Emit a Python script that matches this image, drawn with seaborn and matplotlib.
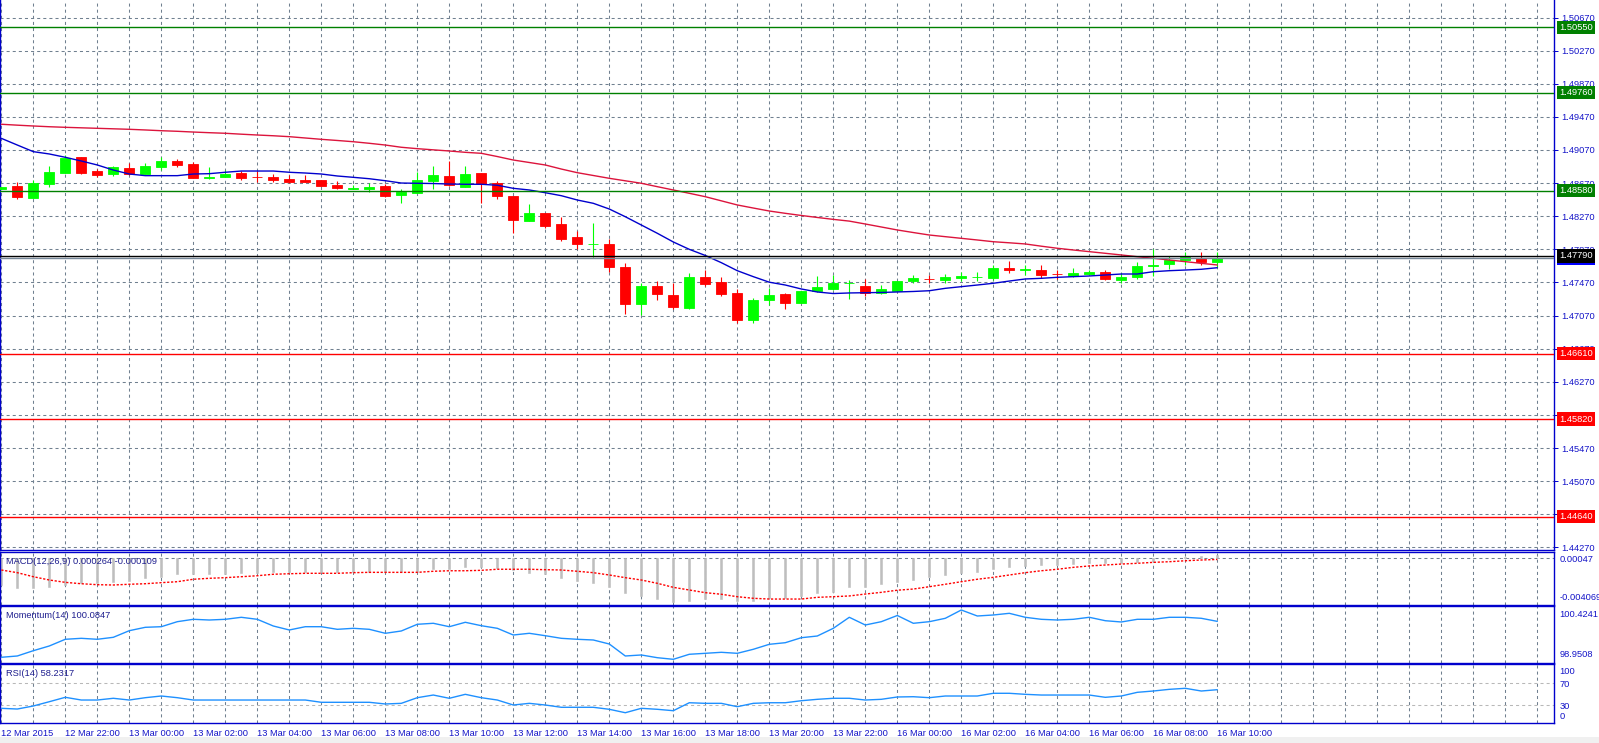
import numpy as np
import seaborn as sns
import matplotlib.pyplot as plt
from matplotlib.patches import Rectangle

sns.set_style("white")
plt.rcParams['font.family'] = ['Liberation Sans', 'DejaVu Sans']
plt.rcParams['lines.scale_dashes'] = False

# M30 bars, 12 Mar 2015 20:00 .. 16 Mar 2015 10:00
opens = [1.48599, 1.48635, 1.48494, 1.48663, 1.48796, 1.48985, 1.48816, 1.48784, 1.48853, 1.48780,
         1.48865, 1.48937, 1.48904, 1.48735, 1.48744, 1.48792, 1.48748, 1.48744, 1.48720, 1.48708,
         1.48708, 1.48647, 1.48603, 1.48603, 1.48635, 1.48530, 1.48554, 1.48696, 1.48756, 1.48627,
         1.48792, 1.48668, 1.48518, 1.48216, 1.48313, 1.48176, 1.48019, 1.47930, 1.47934, 1.47657,
         1.47213, 1.47427, 1.47318, 1.47165, 1.47536, 1.47475, 1.47343, 1.47020, 1.47258, 1.47330,
         1.47225, 1.47367, 1.47391, 1.47458, 1.47427, 1.47343, 1.47367, 1.47487, 1.47515, 1.47500,
         1.47524, 1.47533, 1.47524, 1.47645, 1.47625, 1.47620, 1.47575, 1.47548, 1.47572, 1.47596,
         1.47500, 1.47536, 1.47668, 1.47693, 1.47741, 1.47765, 1.47721]
highs = [1.48619, 1.48687, 1.48708, 1.48877, 1.49010, 1.48990, 1.48837, 1.48880, 1.48909, 1.48909,
         1.48985, 1.48961, 1.48929, 1.48865, 1.48828, 1.48816, 1.48816, 1.48780, 1.48764, 1.48768,
         1.48708, 1.48696, 1.48647, 1.48671, 1.48663, 1.48599, 1.48804, 1.48877, 1.48937, 1.48877,
         1.48792, 1.48696, 1.48518, 1.48421, 1.48313, 1.48261, 1.48091, 1.48188, 1.47995, 1.47701,
         1.47460, 1.47487, 1.47460, 1.47584, 1.47620, 1.47532, 1.47387, 1.47279, 1.47403, 1.47346,
         1.47367, 1.47548, 1.47560, 1.47500, 1.47512, 1.47439, 1.47487, 1.47560, 1.47560, 1.47572,
         1.47596, 1.47596, 1.47681, 1.47729, 1.47681, 1.47681, 1.47620, 1.47645, 1.47620, 1.47620,
         1.47584, 1.47717, 1.47880, 1.47790, 1.47838, 1.47838, 1.47834]
lows = [1.48599, 1.48482, 1.48494, 1.48627, 1.48790, 1.48780, 1.48740, 1.48756, 1.48764, 1.48780,
        1.48828, 1.48868, 1.48732, 1.48720, 1.48744, 1.48708, 1.48683, 1.48683, 1.48671, 1.48683,
        1.48635, 1.48595, 1.48595, 1.48566, 1.48506, 1.48433, 1.48554, 1.48603, 1.48635, 1.48627,
        1.48433, 1.48482, 1.48071, 1.48216, 1.48128, 1.47971, 1.47874, 1.47777, 1.47596, 1.47092,
        1.47073, 1.47258, 1.47146, 1.47153, 1.47427, 1.47310, 1.46984, 1.46984, 1.47198, 1.47153,
        1.47225, 1.47355, 1.47379, 1.47270, 1.47306, 1.47330, 1.47367, 1.47463, 1.47463, 1.47463,
        1.47487, 1.47487, 1.47500, 1.47584, 1.47560, 1.47524, 1.47512, 1.47536, 1.47560, 1.47500,
        1.47463, 1.47512, 1.47545, 1.47632, 1.47681, 1.47681, 1.47660]
closes = [1.48619, 1.48506, 1.48668, 1.48808, 1.48970, 1.48796, 1.48772, 1.48865, 1.48780, 1.48877,
          1.48937, 1.48889, 1.48732, 1.48745, 1.48780, 1.48732, 1.48740, 1.48708, 1.48683, 1.48683,
          1.48635, 1.48611, 1.48611, 1.48623, 1.48514, 1.48566, 1.48708, 1.48768, 1.48647, 1.48780,
          1.48659, 1.48518, 1.48228, 1.48313, 1.48152, 1.47995, 1.47934, 1.47940, 1.47660, 1.47210,
          1.47427, 1.47334, 1.47177, 1.47536, 1.47455, 1.47334, 1.47020, 1.47258, 1.47318, 1.47225,
          1.47367, 1.47415, 1.47463, 1.47466, 1.47343, 1.47391, 1.47487, 1.47524, 1.47510, 1.47536,
          1.47548, 1.47540, 1.47645, 1.47620, 1.47630, 1.47560, 1.47568, 1.47584, 1.47596, 1.47512,
          1.47536, 1.47669, 1.47676, 1.47741, 1.47777, 1.47717, 1.47762]

ma_fast = [1.49211, 1.49130, 1.49050, 1.49022, 1.48982, 1.48937, 1.48889, 1.48828, 1.48780, 1.48760,
           1.48760, 1.48760, 1.48780, 1.48784, 1.48801, 1.48816, 1.48816, 1.48816, 1.48801, 1.48792,
           1.48780, 1.48756, 1.48740, 1.48723, 1.48699, 1.48671, 1.48668, 1.48665, 1.48659, 1.48656,
           1.48656, 1.48644, 1.48607, 1.48587, 1.48554, 1.48518, 1.48466, 1.48426, 1.48357, 1.48264,
           1.48164, 1.48064, 1.47959, 1.47870, 1.47796, 1.47709, 1.47612, 1.47540, 1.47473, 1.47439,
           1.47391, 1.47355, 1.47336, 1.47343, 1.47346, 1.47349, 1.47355, 1.47361, 1.47370, 1.47399,
           1.47419, 1.47439, 1.47460, 1.47487, 1.47512, 1.47520, 1.47532, 1.47540, 1.47548, 1.47560,
           1.47572, 1.47572, 1.47600, 1.47612, 1.47620, 1.47629, 1.47648]
ma_slow = [1.49381, 1.49370, 1.49360, 1.49351, 1.49344, 1.49338, 1.49332, 1.49326, 1.49320, 1.49312,
           1.49303, 1.49296, 1.49287, 1.49279, 1.49272, 1.49261, 1.49251, 1.49242, 1.49231, 1.49215,
           1.49199, 1.49185, 1.49170, 1.49151, 1.49130, 1.49103, 1.49086, 1.49072, 1.49058, 1.49042,
           1.49030, 1.48991, 1.48949, 1.48919, 1.48889, 1.48840, 1.48796, 1.48762, 1.48728, 1.48698,
           1.48668, 1.48627, 1.48587, 1.48547, 1.48506, 1.48456, 1.48406, 1.48369, 1.48333, 1.48305,
           1.48279, 1.48255, 1.48232, 1.48211, 1.48176, 1.48140, 1.48104, 1.48073, 1.48043, 1.48023,
           1.48003, 1.47983, 1.47962, 1.47949, 1.47935, 1.47908, 1.47883, 1.47862, 1.47842, 1.47822,
           1.47802, 1.47781, 1.47762, 1.47741, 1.47721, 1.47701, 1.47681]

macd_main = [-0.00251, -0.00282, -0.00282, -0.00273, -0.00251, -0.00235, -0.00235, -0.00220, -0.00211, -0.00188,
             -0.00173, -0.00150, -0.00150, -0.00150, -0.00148, -0.00141, -0.00141, -0.00132, -0.00132, -0.00132,
             -0.00132, -0.00132, -0.00132, -0.00126, -0.00132, -0.00132, -0.00126, -0.00103, -0.00103, -0.00079,
             -0.00085, -0.00094, -0.00110, -0.00135, -0.00150, -0.00182, -0.00211, -0.00229, -0.00267, -0.00323,
             -0.00354, -0.00383, -0.004069, -0.00399, -0.00385, -0.00385, -0.00405, -0.00399, -0.00376, -0.00376,
             -0.00354, -0.00329, -0.00314, -0.00273, -0.00267, -0.00244, -0.00220, -0.00204, -0.00179, -0.00157,
             -0.00141, -0.00126, -0.00101, -0.00079, -0.00070, -0.00060, -0.00060, -0.00051, -0.00047, -0.00044,
             -0.00047, -0.00035, -0.00023, -0.00009, 0.00015, 0.00022, 0.000264]
macd_signal = [-0.00110, -0.00135, -0.00173, -0.00204, -0.00226, -0.00239, -0.00248, -0.00251, -0.00244, -0.00239,
               -0.00229, -0.00220, -0.00197, -0.00188, -0.00182, -0.00173, -0.00164, -0.00150, -0.00145, -0.00141,
               -0.00141, -0.00141, -0.00135, -0.00132, -0.00132, -0.00132, -0.00132, -0.00122, -0.00117, -0.00117,
               -0.00113, -0.00103, -0.00103, -0.00103, -0.00107, -0.00110, -0.00122, -0.00135, -0.00157, -0.00182,
               -0.00204, -0.00235, -0.00273, -0.00298, -0.00323, -0.00338, -0.00361, -0.00376, -0.00383, -0.00383,
               -0.00383, -0.00367, -0.00361, -0.00354, -0.00336, -0.00320, -0.00300, -0.00289, -0.00267, -0.00244,
               -0.00220, -0.00197, -0.00179, -0.00157, -0.00135, -0.00117, -0.00103, -0.00085, -0.00072, -0.00063,
               -0.00054, -0.00047, -0.00038, -0.00032, -0.00023, -0.00016, -0.000109]
momentum = [99.011, 99.050, 99.208, 99.349, 99.549, 99.578, 99.549, 99.608, 99.806, 99.907,
            99.925, 100.075, 100.146, 100.125, 100.146, 100.206, 100.146, 99.946, 99.827, 99.925,
            99.925, 99.847, 99.877, 99.847, 99.728, 99.797, 99.997, 100.027, 99.925, 100.057,
            99.955, 99.877, 99.677, 99.728, 99.656, 99.578, 99.549, 99.528, 99.408, 99.050,
            99.080, 98.999, 98.9508, 99.101, 99.130, 99.160, 99.130, 99.250, 99.399, 99.447,
            99.596, 99.647, 99.877, 100.206, 99.976, 100.075, 100.260, 100.027, 100.075, 100.176,
            100.4241, 100.245, 100.275, 100.325, 100.206, 100.146, 100.125, 100.146, 100.206, 100.104,
            100.066, 100.146, 100.146, 100.206, 100.206, 100.176, 100.0847]
rsi = [23.9, 22.6, 28.2, 36.1, 44.2, 39.2, 39.2, 42.4, 39.2, 43.5,
       46.6, 43.5, 39.2, 39.2, 39.2, 39.2, 39.2, 39.2, 39.2, 39.2,
       35.0, 35.0, 35.0, 35.0, 31.9, 33.1, 43.5, 48.4, 42.4, 49.7,
       43.5, 39.2, 30.0, 33.1, 30.0, 25.8, 25.8, 25.8, 22.1, 15.8,
       23.9, 22.1, 19.5, 34.2, 33.1, 33.1, 26.9, 33.1, 34.2, 34.2,
       37.9, 40.5, 42.4, 42.4, 39.2, 40.5, 44.8, 45.3, 43.5, 46.6,
       46.6, 46.6, 51.6, 51.6, 49.7, 48.4, 48.4, 48.4, 48.4, 44.2,
       46.6, 53.4, 55.8, 58.9, 60.8, 55.8, 58.2317]

time_labels = ["12 Mar 2015", "12 Mar 22:00", "13 Mar 00:00", "13 Mar 02:00", "13 Mar 04:00",
               "13 Mar 06:00", "13 Mar 08:00", "13 Mar 10:00", "13 Mar 12:00", "13 Mar 14:00",
               "13 Mar 16:00", "13 Mar 18:00", "13 Mar 20:00", "13 Mar 22:00", "16 Mar 00:00",
               "16 Mar 02:00", "16 Mar 04:00", "16 Mar 06:00", "16 Mar 08:00", "16 Mar 10:00"]
price_ticks = [1.50670, 1.50270, 1.49870, 1.49470, 1.49070, 1.48670, 1.48270, 1.47870, 1.47470,
               1.47070, 1.46670, 1.46270, 1.45870, 1.45470, 1.45070, 1.44670, 1.44270]
green_levels = [1.50550, 1.49760, 1.48580]
red_levels = [1.46610, 1.45820, 1.44640]
black_level = 1.47790
bid_price = 1.47762
macd_axis_labels = ["0.00047", "-0.004069"]
mom_axis_labels = ["100.4241", "98.9508"]
rsi_levels = [70, 30]
rsi_axis_ticks = [100, 70, 30, 0]

W, H = 1599, 743
BLUE = '#0000CC'
TXT = '#1414C8'
GRID = '#708090'
FS = 6.7

fig = plt.figure(figsize=(W / 100, H / 100), dpi=100)
fig.patch.set_facecolor('white')


def panel(top, bottom):
    return fig.add_axes([0, 1 - bottom / H, 1554 / W, (bottom - top) / H])


ax = panel(0, 549.5)
ax_macd = panel(551.5, 604.5)
ax_mom = panel(606.0, 662.5)
ax_rsi = panel(664.0, 722.7)
axes = [ax, ax_macd, ax_mom, ax_rsi]

idx = np.arange(len(closes))
n_slots = (1554 - 1.3) / 16.0

for a in axes:
    a.set_facecolor('white')
    a.set_xlim(-1.3 / 16.0, n_slots)
    for k in range(0, 98, 2):
        a.axvline(k, color=GRID, lw=0.75, ls=(0, (2.2, 2.2)), zorder=0)
    for s in ['left', 'right', 'top', 'bottom']:
        a.spines[s].set_color(BLUE)
        a.spines[s].set_linewidth(1.0)
    a.tick_params(axis='x', length=0, labelbottom=False)
    a.yaxis.tick_right()
    a.tick_params(axis='y', which='major', direction='out', length=3, width=0.7,
                  color=BLUE, labelcolor=TXT, labelsize=FS, pad=2,
                  left=False, right=True, labelleft=False, labelright=True)
ax.spines['top'].set_visible(False)

# ---- main price chart
o, h, l, c = map(np.array, (opens, highs, lows, closes))
col = np.where(c >= o, '#00FF00', '#FF0000')
ax.vlines(idx, l, h, colors=col, lw=0.8, zorder=3)
ax.bar(idx, np.abs(c - o), bottom=np.minimum(o, c), width=0.62, color=col,
       edgecolor=col, linewidth=0.6, zorder=4)
sns.lineplot(x=idx, y=ma_slow, ax=ax, color='#DC143C', lw=1.0, zorder=5, legend=False)
sns.lineplot(x=idx, y=ma_fast, ax=ax, color='#0000CD', lw=1.0, zorder=5, legend=False)

for lv in green_levels:
    ax.axhline(lv, color='#008000', lw=1.0, zorder=6)
for lv in red_levels:
    ax.axhline(lv, color='#FF0000', lw=1.0, zorder=6)
ax.axhline(bid_price, color='#778899', lw=1.0, zorder=6)
ax.axhline(black_level, color='black', lw=1.0, zorder=6)

ax.set_ylim(1.44244, 1.50882)
ax.set_yticks(price_ticks)
ax.set_yticklabels([f"{p:.5f}" for p in price_ticks])
ax.grid(True, axis='y', color=GRID, lw=0.75, ls=(0, (2.2, 2.2)), zorder=0)
ax.set_axisbelow(True)


def tag(price, face, z):
    ax.text(1.0035, price, f"{price:.5f}", transform=ax.get_yaxis_transform(),
            ha='left', va='center', fontsize=FS, color='white', clip_on=False,
            zorder=z, bbox=dict(boxstyle='square,pad=0.22', fc=face, ec='none'))


for lv in green_levels:
    tag(lv, '#008000', 10)
for lv in red_levels:
    tag(lv, '#FF0000', 10)
tag(bid_price, '#0000FF', 9)
tag(black_level, 'black', 10)

# ---- MACD
ax_macd.bar(idx, macd_main, width=0.14, color='#BEBEBE', edgecolor='#BEBEBE',
            linewidth=0.4, zorder=2)
sns.lineplot(x=idx, y=macd_signal, ax=ax_macd, color='#FF0000', lw=1.0,
             ls=(0, (1.6, 1.2)), zorder=3, legend=False)
ax_macd.axhline(0, color=GRID, lw=0.75, ls=(0, (2.2, 2.2)), zorder=0)
ax_macd.set_ylim(-0.004343, 0.00064)
ax_macd.set_yticks([max(macd_main), min(macd_main)])
ax_macd.set_yticklabels(macd_axis_labels)
ax_macd.annotate("MACD(12,26,9) 0.000264 -0.000109", xy=(0, 1), xycoords='axes fraction',
                 xytext=(6, -9.5), textcoords='offset pixels', va='center',
                 fontsize=FS, color='#1F1F8F')

# ---- Momentum
sns.lineplot(x=idx, y=momentum, ax=ax_mom, color='#1E90FF', lw=1.0, zorder=3, legend=False)
ax_mom.set_ylim(98.8554, 100.5436)
ax_mom.set_yticks([max(momentum), min(momentum)])
ax_mom.set_yticklabels(mom_axis_labels)
ax_mom.annotate("Momentum(14) 100.0847", xy=(0, 1), xycoords='axes fraction',
                xytext=(6, -9), textcoords='offset pixels', va='center',
                fontsize=FS, color='#1F1F8F')

# ---- RSI
for lv in rsi_levels:
    ax_rsi.axhline(lv, color='#B8B8B8', lw=0.75, ls=(0, (2.2, 2.2)), zorder=1)
sns.lineplot(x=idx, y=rsi, ax=ax_rsi, color='#1E90FF', lw=1.0, zorder=3, legend=False)
ax_rsi.set_ylim(-2.6, 105.6)
ax_rsi.set_yticks(rsi_axis_ticks)
ax_rsi.set_yticklabels([str(v) for v in rsi_axis_ticks])
ax_rsi.annotate("RSI(14) 58.2317", xy=(0, 1), xycoords='axes fraction',
                xytext=(6, -9.3), textcoords='offset pixels', va='center',
                fontsize=FS, color='#1F1F8F')

for a, (top_lab, bot_lab) in [(ax_macd, (0, 1)), (ax_mom, (0, 1)), (ax_rsi, (0, 3))]:
    labs = a.get_yticklabels()
    labs[top_lab].set_va('top')
    labs[bot_lab].set_va('bottom')
    a.tick_params(axis='y', length=0, pad=4)

ax_rsi.set_xticks(np.arange(0, 4 * len(time_labels), 4))
ax_rsi.set_xticklabels(time_labels)
ax_rsi.tick_params(axis='x', length=3, width=0.7, color=BLUE, direction='out',
                   labelbottom=True, labelsize=FS, labelcolor=TXT, pad=1.5)
plt.setp(ax_rsi.get_xticklabels(), ha='left')

for a in axes:
    a.set_xlabel('')
    a.set_ylabel('')

fig.patches.append(Rectangle((0, 0), 1, 6 / H, transform=fig.transFigure,
                             facecolor='#F0F0F0', edgecolor='none'))

fig.savefig('out.png', dpi=100)
